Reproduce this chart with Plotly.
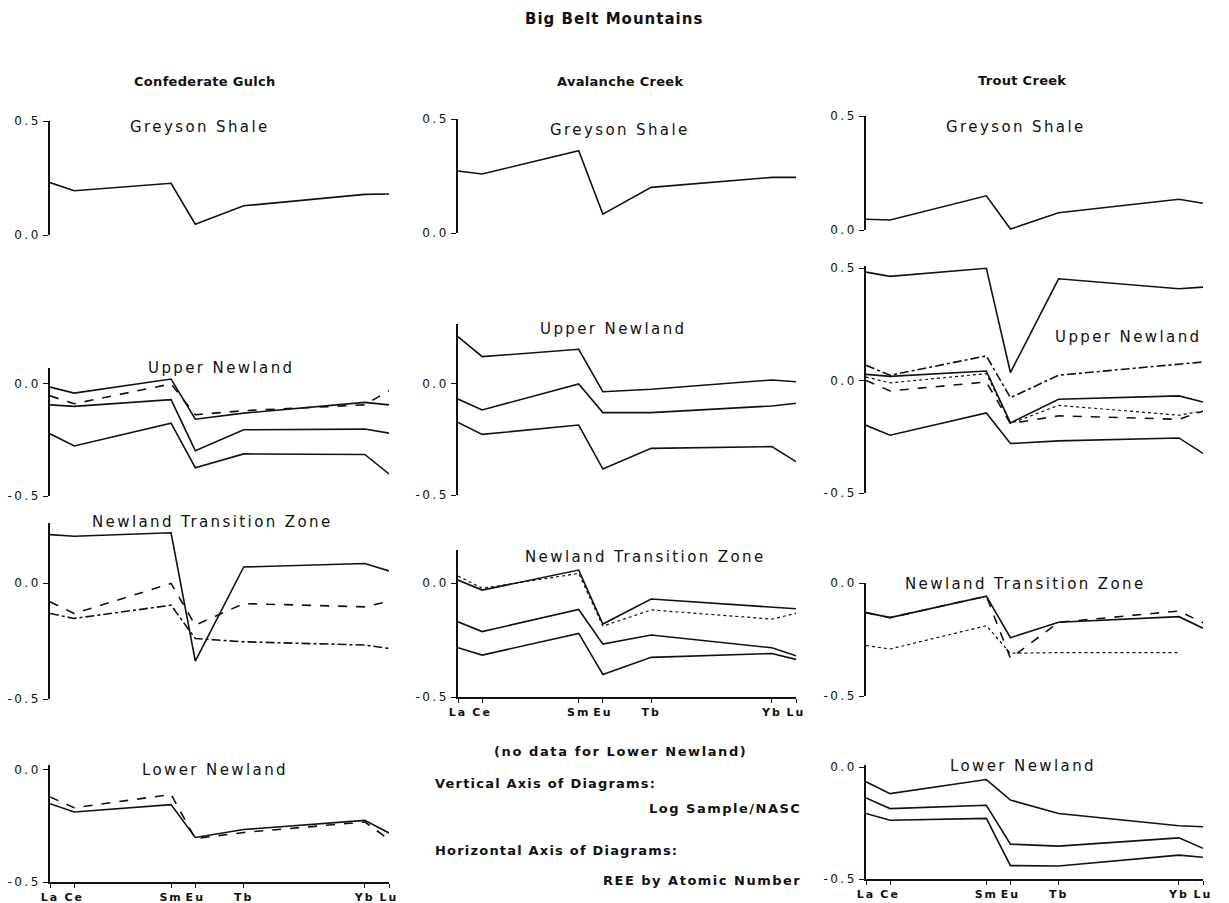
import plotly.graph_objects as go

# ---------------- data ----------------
REE = ["La", "Ce", "Sm", "Eu", "Tb", "Yb", "Lu"]
atomic_number = [57, 58, 62, 63, 65, 70, 71]

# Confederate Gulch
cg_greyson = [0.23, 0.194, 0.227, 0.047, 0.128, 0.178, 0.18]
cg_upper_1 = [-0.015, -0.042, 0.021, -0.158, -0.131, -0.083, -0.094]
cg_upper_2 = [-0.054, -0.089, -0.001, -0.138, -0.12, -0.094, -0.031]
cg_upper_3 = [-0.094, -0.101, -0.071, -0.298, -0.205, -0.202, -0.22]
cg_upper_4 = [-0.223, -0.277, -0.176, -0.374, -0.3125, -0.315, -0.402]
cg_ntz_1 = [0.21, 0.203, 0.218, -0.336, 0.07, 0.085, 0.053]
cg_ntz_2 = [-0.08, -0.131, -0.001, -0.181, -0.088, -0.102, -0.078]
cg_ntz_3 = [-0.131, -0.152, -0.095, -0.239, -0.253, -0.267, -0.282]
cg_lower_1 = [-0.152, -0.189, -0.156, -0.302, -0.267, -0.226, -0.282]
cg_lower_2 = [-0.122, -0.17, -0.111, -0.307, -0.28, -0.233, -0.311]

# Avalanche Creek
ac_greyson = [0.272, 0.259, 0.361, 0.083, 0.2, 0.244, 0.244]
ac_upper_1 = [0.213, 0.123, 0.156, -0.035, -0.024, 0.018, 0.01]
ac_upper_2 = [-0.068, -0.117, 0.0, -0.129, -0.129, -0.099, -0.087]
ac_upper_3 = [-0.173, -0.227, -0.185, -0.383, -0.29, -0.282, -0.35]
ac_ntz_1 = [0.013, -0.031, 0.057, -0.18, -0.07, -0.108, -0.113]
ac_ntz_2 = [0.031, -0.023, 0.042, -0.189, -0.118, -0.158, -0.133]
ac_ntz_3 = [-0.17, -0.213, -0.116, -0.268, -0.228, -0.284, -0.319]
ac_ntz_4 = [-0.284, -0.316, -0.221, -0.401, -0.326, -0.309, -0.335]

# Trout Creek
tc_greyson = [0.047, 0.044, 0.15, 0.004, 0.076, 0.135, 0.117]
tc_upper_1 = [0.483, 0.464, 0.5, 0.036, 0.453, 0.409, 0.416]
tc_upper_2 = [0.068, 0.024, 0.11, -0.076, 0.024, 0.071, 0.083]
tc_upper_3 = [0.028, 0.019, 0.043, -0.188, -0.083, -0.068, -0.095]
tc_upper_4 = [0.016, -0.01, 0.031, -0.191, -0.11, -0.154, -0.136]
tc_upper_5 = [0.001, -0.046, -0.006, -0.191, -0.157, -0.172, -0.136]
tc_upper_6 = [-0.199, -0.243, -0.144, -0.28, -0.268, -0.255, -0.324]
tc_ntz_1 = [-0.131, -0.153, -0.058, -0.242, -0.174, -0.149, -0.2]
tc_ntz_2 = [-0.131, -0.153, -0.058, -0.333, -0.174, -0.124, -0.176]
tc_ntz_3 = [-0.277, -0.292, -0.189, -0.311, -0.308, -0.308, None]
tc_lower_1 = [-0.065, -0.118, -0.055, -0.147, -0.207, -0.262, -0.266]
tc_lower_2 = [-0.137, -0.185, -0.17, -0.344, -0.353, -0.316, -0.363]
tc_lower_3 = [-0.207, -0.237, -0.229, -0.44, -0.442, -0.393, -0.403]

# ---------------- layout helpers ----------------
FW, FH = 1229, 903
FONT = "DejaVu Sans, Liberation Sans, Arial, sans-serif"
INK = "#111111"


def fx(px):
    return px / FW


def fy(py):
    return 1 - py / FH


def spaced(text, ls):
    return f'<span style="letter-spacing:{ls}px">{text}</span>'


COLX = [(50, 389), (458, 796), (866, 1203)]

panels = [
    dict(col=0, top=121, bot=235, yr=[0, 0.5], yt=[0.0, 0.5],
         series=[(cg_greyson, "solid")], showx=False),
    dict(col=0, top=368, bot=496, yr=[-0.5, 0.07], yt=[-0.5, 0.0],
         series=[(cg_upper_1, "solid"), (cg_upper_2, "dash"),
                 (cg_upper_3, "solid"), (cg_upper_4, "solid")], showx=False),
    dict(col=0, top=523, bot=699, yr=[-0.5, 0.26], yt=[-0.5, 0.0],
         series=[(cg_ntz_1, "solid"), (cg_ntz_2, "dash"), (cg_ntz_3, "dashdot")], showx=False),
    dict(col=0, top=765, bot=882, yr=[-0.5, 0.02], yt=[-0.5, 0.0],
         series=[(cg_lower_1, "solid"), (cg_lower_2, "dash")], showx=True),
    dict(col=1, top=119, bot=233, yr=[0, 0.5], yt=[0.0, 0.5],
         series=[(ac_greyson, "solid")], showx=False),
    dict(col=1, top=324, bot=495, yr=[-0.5, 0.27], yt=[-0.5, 0.0],
         series=[(ac_upper_1, "solid"), (ac_upper_2, "solid"), (ac_upper_3, "solid")], showx=False),
    dict(col=1, top=550, bot=697, yr=[-0.5, 0.145], yt=[-0.5, 0.0],
         series=[(ac_ntz_1, "solid"), (ac_ntz_2, "dot"), (ac_ntz_3, "solid"), (ac_ntz_4, "solid")],
         showx=True),
    dict(col=2, top=116, bot=230, yr=[0, 0.5], yt=[0.0, 0.5],
         series=[(tc_greyson, "solid")], showx=False),
    dict(col=2, top=266, bot=493, yr=[-0.5, 0.51], yt=[-0.5, 0.0, 0.5],
         series=[(tc_upper_1, "solid"), (tc_upper_2, "dashdot"), (tc_upper_3, "solid"),
                 (tc_upper_4, "dot"), (tc_upper_5, "dash"), (tc_upper_6, "solid")], showx=False),
    dict(col=2, top=583, bot=696, yr=[-0.5, 0.0], yt=[-0.5, 0.0],
         series=[(tc_ntz_1, "solid"), (tc_ntz_2, "dash"), (tc_ntz_3, "dot")], showx=False),
    dict(col=2, top=765, bot=879, yr=[-0.5, 0.01], yt=[-0.5, 0.0],
         series=[(tc_lower_1, "solid"), (tc_lower_2, "solid"), (tc_lower_3, "solid")], showx=True),
]

fig = go.Figure()
layout = {}
for i, p in enumerate(panels, start=1):
    xa = "x" if i == 1 else f"x{i}"
    ya = "y" if i == 1 else f"y{i}"
    xk = "xaxis" if i == 1 else f"xaxis{i}"
    yk = "yaxis" if i == 1 else f"yaxis{i}"
    x0, x1 = COLX[p["col"]]
    for vals, dash in p["series"]:
        fig.add_trace(go.Scatter(
            x=atomic_number, y=vals, mode="lines", xaxis=xa, yaxis=ya,
            line=dict(color=INK, width=1.2 if dash == "dot" else 1.6, dash=dash),
            showlegend=False, hoverinfo="skip", connectgaps=False))
    layout[xk] = dict(
        domain=[fx(x0), fx(x1)], range=[57, 71], anchor=ya,
        showgrid=False, zeroline=False,
        showline=p["showx"], linecolor=INK, linewidth=1.6,
        ticks="outside" if p["showx"] else "", ticklen=4, tickcolor=INK, tickwidth=1.2,
        tickvals=atomic_number, ticktext=[spaced(t, 2) for t in REE],
        showticklabels=p["showx"],
        tickfont=dict(family=FONT, size=11, color=INK, weight="bold"),
        fixedrange=True)
    layout[yk] = dict(
        domain=[fy(p["bot"]), fy(p["top"])], range=p["yr"], anchor=xa,
        showgrid=False, zeroline=False, showline=True, linecolor=INK, linewidth=1.6,
        ticks="outside", ticklen=5, tickcolor=INK, tickwidth=1.2,
        tickvals=p["yt"], ticktext=[spaced(f"{v:.1f}", 2.5) for v in p["yt"]],
        tickfont=dict(family=FONT, size=12, color=INK),
        fixedrange=True)

annotations = []


def txt(text, x, y, size, bold=False, anchor="center", ls=0.0):
    annotations.append(dict(
        text=spaced(text, ls) if ls else text, x=fx(x), y=fy(y), xref="paper", yref="paper",
        xanchor=anchor, yanchor="middle", showarrow=False,
        font=dict(family=FONT, size=size, color=INK, weight="bold" if bold else "normal")))


txt("Big Belt Mountains", 614, 19, 15, bold=True, ls=1)
txt("Confederate Gulch", 205, 81, 13, bold=True, ls=0.3)
txt("Avalanche Creek", 620, 81, 13, bold=True, ls=0.3)
txt("Trout Creek", 1022, 80, 13, bold=True, ls=0.3)

LS = 2.4
txt("Greyson Shale", 200, 127, 15, ls=LS)
txt("Greyson Shale", 620, 130, 15, ls=LS)
txt("Greyson Shale", 1016, 127, 15, ls=LS)
txt("Upper Newland", 222, 368, 15, ls=LS)
txt("Upper Newland", 613, 329, 15, ls=LS)
txt("Upper Newland", 1128, 337, 15, ls=LS)
txt("Newland Transition Zone", 212, 522, 15, ls=LS)
txt("Newland Transition Zone", 645, 557, 15, ls=LS)
txt("Newland Transition Zone", 1025, 584, 15, ls=LS)
txt("Lower Newland", 215, 770, 15, ls=LS)
txt("Lower Newland", 1023, 766, 15, ls=LS)

txt("(no data for Lower Newland)", 620, 751, 13, bold=True, ls=1.6)
txt("Vertical Axis of Diagrams:", 433, 783, 13, bold=True, anchor="left", ls=1.2)
txt("Log Sample/NASC", 803, 808, 13, bold=True, anchor="right", ls=1.5)
txt("Horizontal Axis of Diagrams:", 433, 850, 13, bold=True, anchor="left", ls=1.2)
txt("REE by Atomic Number", 803, 880, 13, bold=True, anchor="right", ls=1.5)

fig.update_layout(
    width=FW, height=FH, margin=dict(l=0, r=0, t=0, b=0, autoexpand=False),
    paper_bgcolor="white", plot_bgcolor="white",
    annotations=annotations, showlegend=False,
    font=dict(family=FONT, color=INK),
    **layout)

# remove the default page margin so the 1229x903 figure fills the window exactly
fig.write_html(
    "out.html",
    config={"displayModeBar": False},
    post_script="document.body.style.margin='0';document.body.style.overflow='hidden';",
)
